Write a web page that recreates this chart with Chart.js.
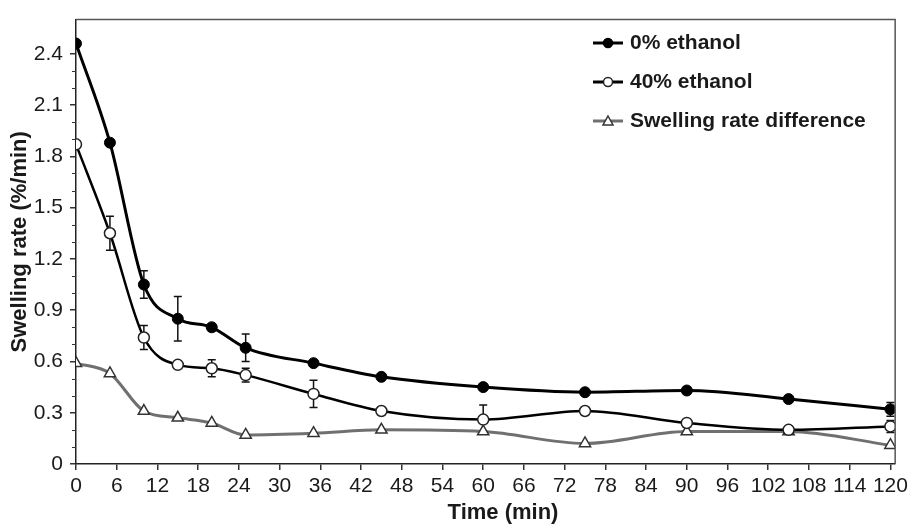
<!DOCTYPE html>
<html>
<head>
<meta charset="utf-8">
<script src="https://cdn.jsdelivr.net/npm/chart.js@4.4.1/dist/chart.umd.min.js"></script>
<style>
    html, body { margin: 0; padding: 0; background: #fff; }
    #wrap { width: 912px; height: 524px; }
</style>
</head>
<body>
<div id="wrap"><canvas id="swellChart" width="912" height="524"></canvas></div>
<script>
// Data
const times = [0, 5, 10, 15, 20, 25, 35, 45, 60, 75, 90, 105, 120];
const eth0 = [2.46, 1.88, 1.05, 0.85, 0.80, 0.68, 0.59, 0.51, 0.45, 0.42, 0.43, 0.38, 0.32];
const eth0Err = [0, 0, 0.08, 0.13, 0.02, 0.08, 0.01, 0, 0.01, 0.01, 0.02, 0.01, 0.04];
const eth40 = [1.87, 1.35, 0.74, 0.58, 0.56, 0.52, 0.41, 0.31, 0.26, 0.31, 0.24, 0.20, 0.22];
const eth40Err = [0, 0.10, 0.07, 0.01, 0.05, 0.04, 0.08, 0, 0.085, 0, 0, 0, 0.035];
const diff = [0.59, 0.53, 0.31, 0.27, 0.24, 0.17, 0.18, 0.20, 0.19, 0.12, 0.19, 0.19, 0.11];

const xTicks = [0, 6, 12, 18, 24, 30, 36, 42, 48, 54, 60, 66, 72, 78, 84, 90, 96, 102, 108, 114, 120];
const yTicks = [0, 0.3, 0.6, 0.9, 1.2, 1.5, 1.8, 2.1, 2.4];

const xTitle = 'Time (min)';
const yTitle = 'Swelling rate (%/min)';

const FONT = "'Liberation Sans', Arial, Helvetica, sans-serif";
const TEXT = '#1a1a1a';
const GREY = '#707070';

function toPoints(values) {
    return times.map((t, i) => ({ x: t, y: values[i] }));
}

// error bars, axis titles, frame and legend
const extrasPlugin = {
    id: 'extras',
    beforeDatasetsDraw(chart) {
        const ctx = chart.ctx;
        const xs = chart.scales.x;
        const ys = chart.scales.y;
        const sets = [[eth0, eth0Err], [eth40, eth40Err]];
        ctx.save();
        ctx.strokeStyle = '#111';
        ctx.lineWidth = 1.5;
        sets.forEach(([vals, errs]) => {
            vals.forEach((v, i) => {
                if (!errs[i]) return;
                const px = xs.getPixelForValue(times[i]);
                const top = ys.getPixelForValue(v + errs[i]);
                const bot = ys.getPixelForValue(v - errs[i]);
                ctx.beginPath();
                ctx.moveTo(px, top); ctx.lineTo(px, bot);
                ctx.moveTo(px - 4, top); ctx.lineTo(px + 4, top);
                ctx.moveTo(px - 4, bot); ctx.lineTo(px + 4, bot);
                ctx.stroke();
            });
        });
        ctx.restore();
    },
    afterDraw(chart) {
        const ctx = chart.ctx;
        const area = chart.chartArea;
        const ys = chart.scales.y;
        ctx.save();

        // top and right frame
        ctx.strokeStyle = '#555';
        ctx.lineWidth = 1.5;
        ctx.beginPath();
        ctx.moveTo(area.left, area.top);
        ctx.lineTo(area.right, area.top);
        ctx.lineTo(area.right, area.bottom);
        ctx.stroke();

        // minor ticks on the y axis
        ctx.strokeStyle = '#333';
        ctx.lineWidth = 1;
        for (let k = 1; k < 24; k++) {
            if (k % 3 === 0) continue;
            const py = Math.round(ys.getPixelForValue(k / 10)) + 0.5;
            ctx.beginPath();
            ctx.moveTo(area.left - 4, py);
            ctx.lineTo(area.left, py);
            ctx.stroke();
        }

        // axis titles
        ctx.fillStyle = TEXT;
        ctx.font = 'bold 22px ' + FONT;
        ctx.textAlign = 'center';
        ctx.textBaseline = 'middle';
        ctx.fillText(xTitle, 503, 513);
        ctx.translate(20, (area.top + area.bottom) / 2);
        ctx.rotate(-Math.PI / 2);
        ctx.fillText(yTitle, 0, 0);
        ctx.restore();

        // legend
        ctx.save();
        const items = chart.data.datasets;
        const rowY = [43, 82, 121];
        items.forEach((ds, i) => {
            const y = rowY[i];
            ctx.strokeStyle = ds.borderColor;
            ctx.lineWidth = 3;
            ctx.beginPath();
            ctx.moveTo(593, y);
            ctx.lineTo(623, y);
            ctx.stroke();
            ctx.lineWidth = 1.5;
            ctx.fillStyle = ds.pointBackgroundColor;
            ctx.strokeStyle = ds.pointBorderColor;
            ctx.beginPath();
            if (ds.pointStyle === 'triangle') {
                ctx.moveTo(608, y - 5);
                ctx.lineTo(613, y + 4);
                ctx.lineTo(603, y + 4);
                ctx.closePath();
            } else {
                ctx.arc(608, y, 4.5, 0, Math.PI * 2);
            }
            ctx.fill();
            ctx.stroke();
            ctx.fillStyle = TEXT;
            ctx.font = 'bold 21px ' + FONT;
            ctx.textAlign = 'left';
            ctx.textBaseline = 'middle';
            ctx.fillText(ds.label, 630, y);
        });
        ctx.restore();
    }
};

const tickFont = { family: FONT, size: 21 };

const chart = new Chart(document.getElementById('swellChart').getContext('2d'), {
    type: 'line',
    data: {
        datasets: [
            {
                label: '0% ethanol',
                data: toPoints(eth0),
                borderColor: '#000',
                borderWidth: 3,
                pointStyle: 'circle',
                pointRadius: 5.5,
                pointBackgroundColor: '#000',
                pointBorderColor: '#000',
                pointBorderWidth: 1,
                cubicInterpolationMode: 'monotone'
            },
            {
                label: '40% ethanol',
                data: toPoints(eth40),
                borderColor: '#000',
                borderWidth: 2.5,
                pointStyle: 'circle',
                pointRadius: 5.5,
                pointBackgroundColor: '#fff',
                pointBorderColor: '#222',
                pointBorderWidth: 1.5,
                cubicInterpolationMode: 'monotone'
            },
            {
                label: 'Swelling rate difference',
                data: toPoints(diff),
                borderColor: GREY,
                borderWidth: 3,
                pointStyle: 'triangle',
                pointRadius: 6.5,
                pointBackgroundColor: '#fff',
                pointBorderColor: '#333',
                pointBorderWidth: 1.5,
                cubicInterpolationMode: 'monotone'
            }
        ]
    },
    options: {
        responsive: false,
        animation: false,
        devicePixelRatio: 1,
        layout: { padding: { top: 12, right: 14, left: 0, bottom: 0 } },
        plugins: {
            legend: { display: false },
            tooltip: { enabled: false }
        },
        scales: {
            x: {
                type: 'linear',
                min: 0,
                max: 120.7,
                afterBuildTicks: scale => { scale.ticks = xTicks.map(v => ({ value: v })); },
                afterFit: scale => { scale.height = 60; },
                grid: { drawOnChartArea: false, tickLength: 6, color: '#333', lineWidth: 1.5 },
                border: { color: '#222', width: 1.5 },
                ticks: { padding: 4, font: tickFont, color: TEXT, maxRotation: 0, autoSkip: false }
            },
            y: {
                min: 0,
                max: 2.6,
                afterBuildTicks: scale => { scale.ticks = yTicks.map(v => ({ value: v })); },
                afterFit: scale => { scale.width = 76; },
                grid: { drawOnChartArea: false, tickLength: 6, color: '#333', lineWidth: 1.5 },
                border: { color: '#222', width: 1.5 },
                ticks: {
                    padding: 7,
                    font: tickFont,
                    color: TEXT,
                    autoSkip: false,
                    callback: v => (v === 0 ? '0' : v.toFixed(1))
                }
            }
        }
    },
    plugins: [extrasPlugin]
});
</script>
</body>
</html>
